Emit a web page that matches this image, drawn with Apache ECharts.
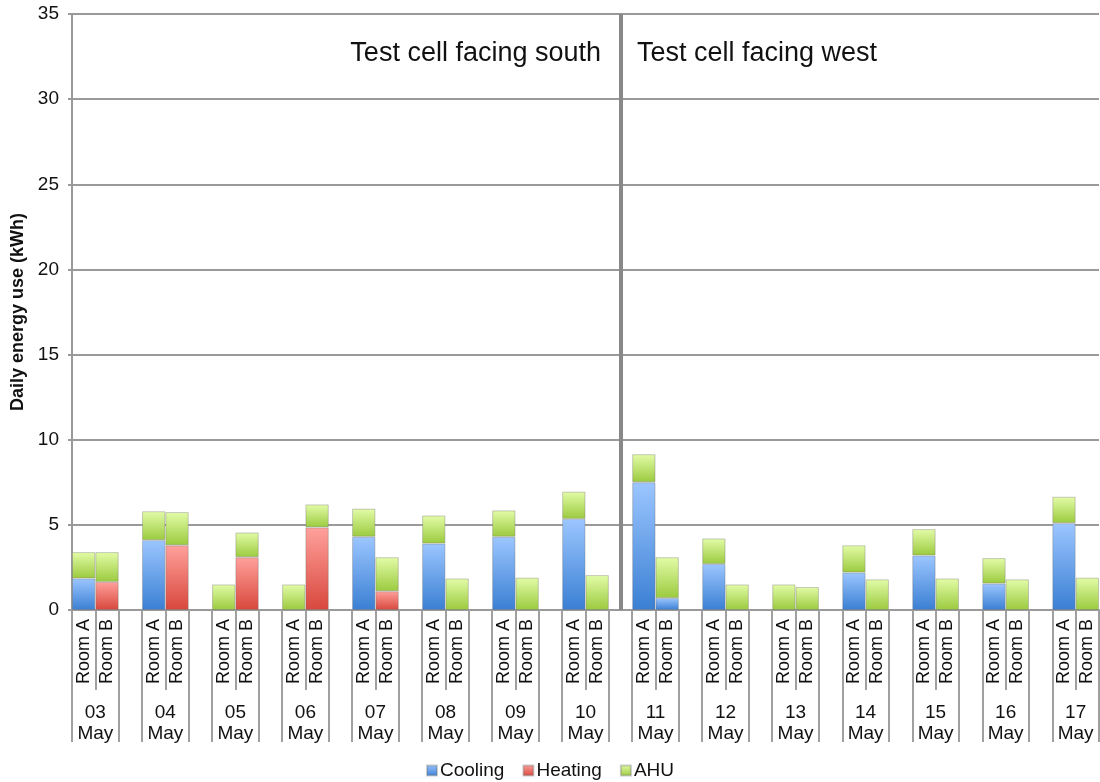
<!DOCTYPE html>
<html>
<head>
<meta charset="utf-8">
<script src="https://cdn.jsdelivr.net/npm/echarts@6/dist/echarts.min.js"></script>
<style>html,body{margin:0;padding:0;background:#fff}#c{width:1100px;height:782px}</style>
</head>
<body>
<div id="c"></div>
<script>
const days = ['03 May','04 May','05 May','06 May','07 May','08 May','09 May','10 May','11 May','12 May','13 May','14 May','15 May','16 May','17 May'];
const rooms = ['Room A', 'Room B'];
const coolingA = [1.85, 4.1, 0, 0, 4.3, 3.9, 4.3, 5.35, 7.5, 2.7, 0, 2.2, 3.2, 1.55, 5.1];
const heatingA = [0, 0, 0, 0, 0, 0, 0, 0, 0, 0, 0, 0, 0, 0, 0];
const ahuA     = [1.55, 1.7, 1.5, 1.5, 1.65, 1.65, 1.55, 1.6, 1.65, 1.5, 1.5, 1.6, 1.55, 1.5, 1.55];
const coolingB = [0, 0, 0, 0, 0, 0, 0, 0, 0.7, 0, 0, 0, 0, 0, 0];
const heatingB = [1.65, 3.8, 3.1, 4.85, 1.1, 0, 0, 0, 0, 0, 0, 0, 0, 0, 0];
const ahuB     = [1.75, 1.95, 1.45, 1.35, 2.0, 1.85, 1.9, 2.05, 2.4, 1.5, 1.35, 1.8, 1.85, 1.8, 1.9];
const splitAfterDay = '10 May';
const yTicks = [0, 5, 10, 15, 20, 25, 30, 35];
const annotations = ['Test cell facing south', 'Test cell facing west'];

// Build slot categories: Room A, Room B, gap (no gap after last day)
const cats = [], catLabels = [];
days.forEach((d, k) => {
  cats.push(d + '|A'); catLabels.push(rooms[0]);
  cats.push(d + '|B'); catLabels.push(rooms[1]);
  if (k < days.length - 1) { cats.push(d + '|gap'); catLabels.push(''); }
});
function build(a, b) {
  const out = [];
  days.forEach((d, k) => {
    out.push(a[k] ? a[k] : '-');
    out.push(b[k] ? b[k] : '-');
    if (k < days.length - 1) out.push('-');
  });
  return out;
}
const n = cats.length;
const boundaryTicks = [];
const dayCenters = [];
days.forEach((d, k) => {
  boundaryTicks.push(3 * k - 0.5, 3 * k + 1.5);
  dayCenters.push(3 * k + 0.5);
});
const splitIdx = days.indexOf(splitAfterDay) * 3 + 2;

function grad(top, bottom) {
  return new echarts.graphic.LinearGradient(0, 0, 0, 1, [
    { offset: 0, color: top }, { offset: 1, color: bottom }
  ]);
}
const font = 'Liberation Sans, Arial, Helvetica, sans-serif';
const barStyleBase = { borderColor: 'rgba(110,110,110,0.35)', borderWidth: 1 };

const chart = echarts.init(document.getElementById('c'));
chart.setOption({
  animation: false,
  textStyle: { fontFamily: font },
  grid: { left: 72, right: 1, top: 14, bottom: 172, containLabel: false, outerBoundsMode: 'none' },
  legend: {
    data: ['Cooling', 'Heating', 'AHU'],
    left: 'center', top: 756,
    icon: 'rect', itemWidth: 10, itemHeight: 10, itemGap: 18,
    textStyle: { fontSize: 19, color: '#111', fontFamily: font, padding: [0, 0, 0, -2] }
  },
  xAxis: [
    {
      type: 'category', data: cats, boundaryGap: true,
      axisLine: { onZero: false, lineStyle: { color: '#9a9a9a', width: 2 } },
      axisTick: { show: true, interval: 0, length: 80, lineStyle: { color: '#a0a0a0', width: 2 } },
      axisLabel: {
        interval: 0, rotate: 90, margin: 9, fontSize: 18, color: '#111', fontFamily: font,
        formatter: (v, i) => catLabels[i]
      },
      splitLine: { show: false }
    },
    {
      type: 'value', position: 'bottom', min: -0.5, max: n - 0.5,
      axisLine: { show: false, onZero: false },
      splitLine: { show: false },
      axisTick: { show: true, length: 132, customValues: boundaryTicks, lineStyle: { color: '#a0a0a0', width: 2 } },
      axisLabel: {
        show: true, customValues: dayCenters, margin: 92, fontSize: 19, lineHeight: 21, color: '#111', fontFamily: font,
        formatter: (v) => { const d = days[Math.round((v - 0.5) / 3)] || ''; return d.replace(' ', '\n'); }
      }
    }
  ],
  yAxis: {
    type: 'value', min: yTicks[0], max: yTicks[yTicks.length - 1], interval: yTicks[1] - yTicks[0],
    name: 'Daily energy use (kWh)', nameLocation: 'middle', nameGap: 44,
    nameTextStyle: { fontSize: 18, fontWeight: 'bold', color: '#111', fontFamily: font },
    axisLine: { show: true, onZero: false, lineStyle: { color: '#9a9a9a', width: 2 } },
    axisTick: { show: true, length: 4, lineStyle: { color: '#9a9a9a', width: 2 } },
    axisLabel: { fontSize: 19, color: '#111', margin: 13, fontFamily: font },
    splitLine: { show: true, lineStyle: { color: '#9a9a9a', width: 2 } }
  },
  series: [
    {
      name: 'Cooling', type: 'bar', stack: 's', barWidth: '100%', barGap: '-100%',
      data: build(coolingA, coolingB),
      itemStyle: Object.assign({ color: grad('#9cc6ff', '#3a7fd3') }, barStyleBase),
      markLine: {
        silent: true, symbol: 'none', label: { show: false },
        lineStyle: { color: '#888', width: 4, type: 'solid' },
        data: [{ xAxis: splitIdx }]
      }
    },
    {
      name: 'Heating', type: 'bar', stack: 's', barWidth: '100%',
      data: build(heatingA, heatingB),
      itemStyle: Object.assign({ color: grad('#ffa19c', '#d8473c') }, barStyleBase)
    },
    {
      name: 'AHU', type: 'bar', stack: 's', barWidth: '100%',
      data: build(ahuA, ahuB),
      itemStyle: Object.assign({ color: grad('#e3fca8', '#9bca3e') }, barStyleBase)
    }
  ],
  graphic: [
    { type: 'text', right: 1100 - 601, top: 40, style: { text: annotations[0], font: '27px ' + font, fill: '#111' } },
    { type: 'text', left: 637, top: 40, style: { text: annotations[1], font: '27px ' + font, fill: '#111' } }
  ]
});
</script>
</body>
</html>
